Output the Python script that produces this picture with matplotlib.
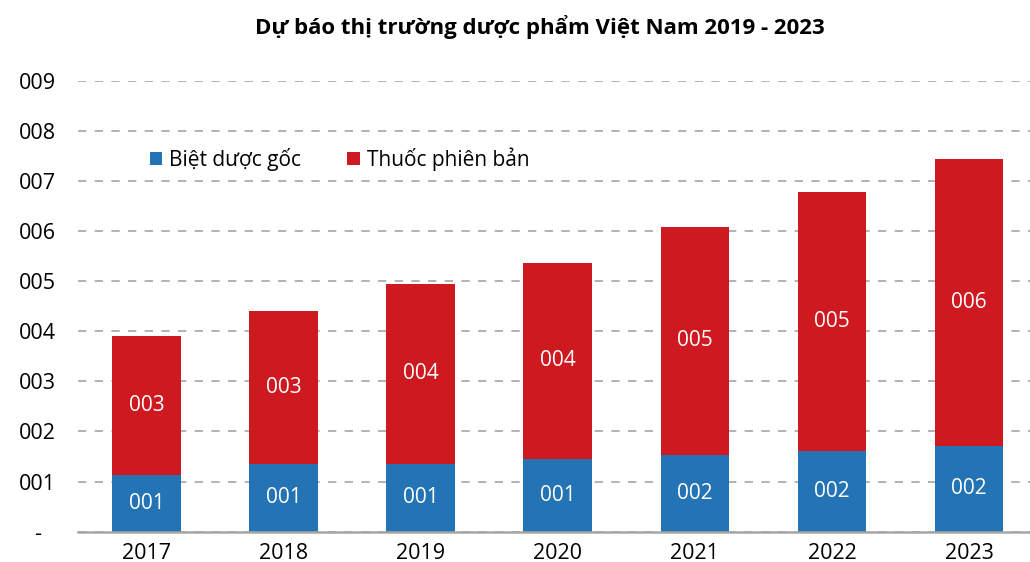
import matplotlib
matplotlib.use("Agg")
import matplotlib.pyplot as plt
import numpy as np

years = ["2017", "2018", "2019", "2020", "2021", "2022", "2023"]
biet_duoc_goc = [1.13, 1.36, 1.36, 1.46, 1.54, 1.61, 1.72]
thuoc_phien_ban = [2.78, 3.05, 3.59, 3.91, 4.55, 5.16, 5.72]
y_ticks = [0, 1, 2, 3, 4, 5, 6, 7, 8, 9]

plt.rcParams['font.family'] = ['Open Sans', 'DejaVu Sans']

BLUE = "#2474B5"
RED = "#CF1920"

fig = plt.figure(figsize=(10.30, 5.62), dpi=100)
W, H = 1030, 562
x0, x1 = 78, 1037.5
y0, y9 = 531.7, 80.7
ax = fig.add_axes([x0 / W, 1 - y0 / H, (x1 - x0) / W, (y0 - y9) / H])

x = np.arange(len(years))
ax.bar(x, biet_duoc_goc, width=0.5, color=BLUE, label="Biệt dược gốc", zorder=3)
ax.bar(x, thuoc_phien_ban, width=0.5, bottom=biet_duoc_goc, color=RED,
       label="Thuốc phiên bản", zorder=3)

for i in range(len(years)):
    ax.text(x[i], biet_duoc_goc[i] / 2, f"{round(biet_duoc_goc[i]):03d}",
            ha="center", va="center", color="white", fontsize=15, zorder=4)
    ax.text(x[i], biet_duoc_goc[i] + thuoc_phien_ban[i] / 2, f"{round(thuoc_phien_ban[i]):03d}",
            ha="center", va="center", color="white", fontsize=15, zorder=4)

ax.set_xlim(-0.5, 6.5)
ax.set_ylim(0, 9)
ax.set_yticks(y_ticks)
ax.set_yticklabels(["-" if v == 0 else f"{v:03d}" for v in y_ticks])
ax.set_xticks(x)
ax.set_xticklabels(years)
ax.tick_params(axis="both", length=0, labelsize=15.5, colors="black")
ax.tick_params(axis="y", pad=29)
ax.tick_params(axis="x", pad=8)
for lab in ax.get_yticklabels():
    lab.set_horizontalalignment("center")

ax.yaxis.grid(True, linestyle=(0, (5, 5)), color="#A6A6A6", linewidth=1.2, zorder=0)
ax.set_axisbelow(True)
for s in ["top", "right", "left"]:
    ax.spines[s].set_visible(False)
ax.spines["bottom"].set_color("#A6A6A6")
ax.spines["bottom"].set_linewidth(1.8)
ax.spines["bottom"].set_zorder(5)

ax.legend(loc="upper left", bbox_to_anchor=(0.066, 0.87), ncol=2, frameon=False,
          fontsize=15, handlelength=0.6, handleheight=0.6, handletextpad=0.35,
          columnspacing=2.2, borderaxespad=0)

fig.text(540 / W, 1 - 27 / H, "Dự báo thị trường dược phẩm Việt Nam 2019 - 2023",
         ha="center", va="center", fontsize=16, fontweight="bold")

fig.savefig("out.png", dpi=100)
